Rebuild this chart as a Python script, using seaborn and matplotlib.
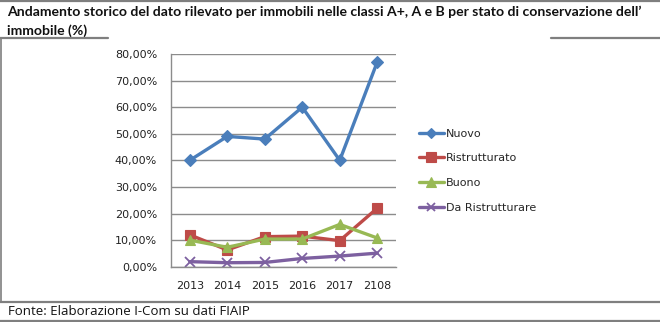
import matplotlib
matplotlib.use("Agg")
import matplotlib.pyplot as plt
import seaborn as sns
import pandas as pd
from matplotlib.lines import Line2D
from matplotlib.ticker import FuncFormatter

years = ["2013", "2014", "2015", "2016", "2017", "2108"]
nuovo = [40.0, 49.0, 48.0, 60.0, 40.0, 77.0]
ristrutturato = [12.0, 6.3, 11.3, 11.5, 9.8, 22.0]
buono = [10.0, 7.3, 10.4, 10.4, 15.9, 10.8]
da_ristrutturare = [1.9, 1.5, 1.6, 3.1, 4.0, 5.1]
series_names = ["Nuovo", "Ristrutturato", "Buono", "Da Ristrutturare"]
yticks = [0, 10, 20, 30, 40, 50, 60, 70, 80]

title = "Andamento storico del dato rilevato per immobili nelle classi A+, A e B per stato di conservazione dell\u2019\nimmobile (%)"
source = "Fonte: Elaborazione I-Com su dati FIAIP"

colors = {"Nuovo": "#4A7EBB", "Ristrutturato": "#BE4B48",
          "Buono": "#98B954", "Da Ristrutturare": "#7D60A0"}
markers = {"Nuovo": "D", "Ristrutturato": "s", "Buono": "^", "Da Ristrutturare": "x"}
msizes = {"Nuovo": 6.5, "Ristrutturato": 7.5, "Buono": 7.5, "Da Ristrutturare": 7}

rows = []
for name, vals in zip(series_names, [nuovo, ristrutturato, buono, da_ristrutturare]):
    for y, v in zip(years, vals):
        rows.append({"Anno": y, "Valore": v, "Serie": name})
df = pd.DataFrame(rows)

sns.set_theme(style="white")
plt.rcParams["font.family"] = ["DejaVu Sans"]

W, H = 660, 322
fig = plt.figure(figsize=(W / 100, H / 100), dpi=100)
ax = fig.add_axes([171 / W, (H - 266.7) / H, 225 / W, 212.7 / H])

for name in series_names:
    sub = df[df["Serie"] == name]
    sns.lineplot(data=sub, x="Anno", y="Valore", ax=ax, color=colors[name],
                 marker=markers[name], markersize=msizes[name], linewidth=2.4,
                 markeredgecolor=colors[name], markeredgewidth=1.3 if name == "Da Ristrutturare" else 0.8,
                 sort=False, label=name, legend=False)

ax.set_xlim(-0.5, 5.5)
ax.set_ylim(0, 80)
ax.set_yticks(yticks)
ax.yaxis.set_major_formatter(FuncFormatter(lambda v, p: f"{v:.2f}".replace(".", ",") + "%"))
ax.grid(axis="y", color="#8C8C8C", linewidth=1)
ax.grid(axis="x", visible=False)
ax.set_axisbelow(True)
for s in ["top", "right"]:
    ax.spines[s].set_visible(False)
for s in ["left", "bottom"]:
    ax.spines[s].set_color("#8C8C8C")
    ax.spines[s].set_linewidth(1)
ax.tick_params(axis="both", length=0, labelsize=8, colors="#222222", pad=6)
ax.tick_params(axis="y", pad=10)
ax.tick_params(axis="x", pad=10)
ax.set_xlabel("")
ax.set_ylabel("")

handles = [Line2D([], [], color=colors[n], marker=markers[n], markersize=msizes[n] - 1,
                  linewidth=2.4, markeredgecolor=colors[n],
                  markeredgewidth=1.3 if n == "Da Ristrutturare" else 0.8) for n in series_names]
fig.legend(handles, series_names, loc="upper left", bbox_to_anchor=(413 / W, (H - 123) / H),
           frameon=False, fontsize=8, handlelength=2.3, handletextpad=0.15,
           labelspacing=1.32, borderpad=0)

fig.text(7 / W, 1 - 6 / H, title, ha="left", va="top", fontsize=10.05, fontweight="bold",
         family=["Lato", "DejaVu Sans"], linespacing=1.55, color="#111111")
fig.text(8 / W, 1 - 311.5 / H, source, ha="left", va="center", fontsize=9.5,
         family=["Open Sans", "DejaVu Sans"], color="#111111")

gray = "#7F7F7F"
def hline(y, x0, x1, lw=1.6):
    fig.add_artist(Line2D([x0 / W, x1 / W], [1 - y / H, 1 - y / H], color=gray, linewidth=lw,
                          transform=fig.transFigure))
hline(0.8, 0, W)
hline(37.5, 0, 108)
hline(37.5, 551, W)
hline(301.5, 0, W)
hline(321.2, 0, W)
fig.add_artist(Line2D([0.8 / W, 0.8 / W], [1 - 37.5 / H, 1 - 301.5 / H], color=gray,
                      linewidth=1.2, transform=fig.transFigure))

fig.savefig("out.png", dpi=100, facecolor="white")
